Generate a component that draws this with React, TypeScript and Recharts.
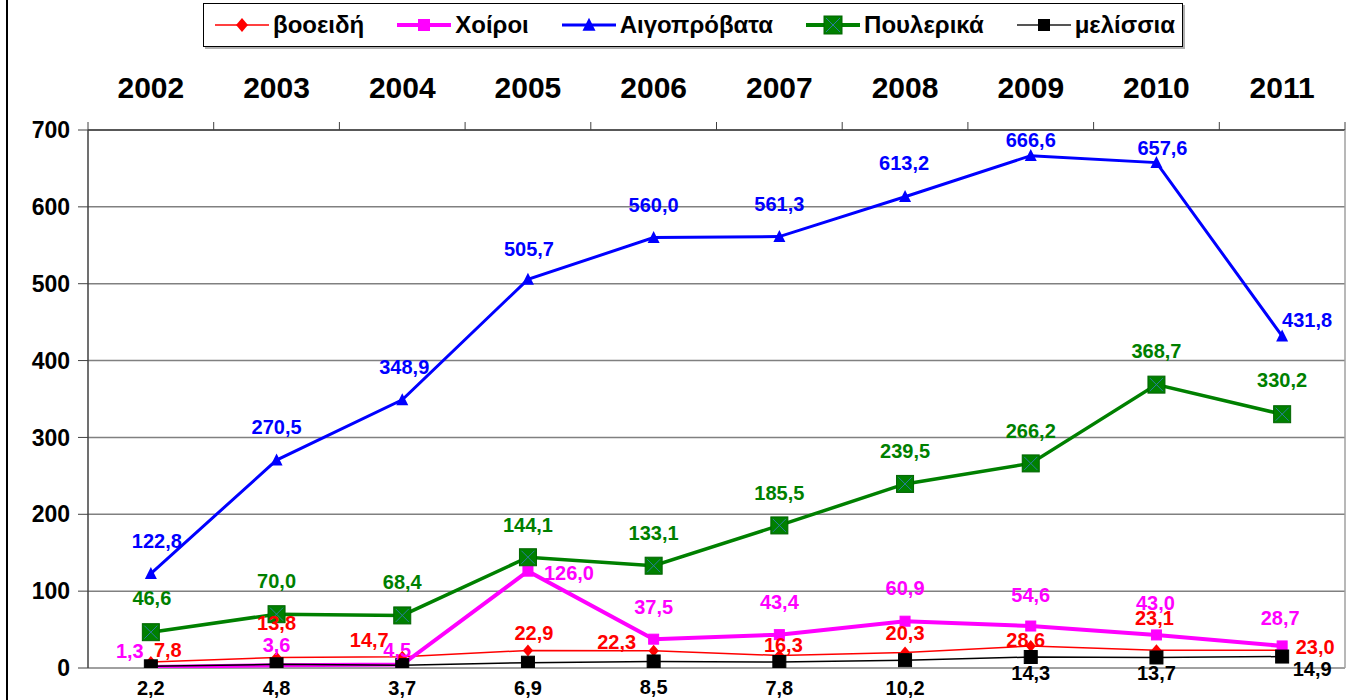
import React from 'react';
import { LineChart, Line, XAxis, YAxis, CartesianGrid, Legend, LabelList } from 'recharts';

const years = ['2002', '2003', '2004', '2005', '2006', '2007', '2008', '2009', '2010', '2011'];
const vooeidi = [7.8, 13.8, 14.7, 22.9, 22.3, 16.3, 20.3, 28.6, 23.1, 23.0];
const choiroi = [1.3, 3.6, 4.5, 126.0, 37.5, 43.4, 60.9, 54.6, 43.0, 28.7];
const aigoprovata = [122.8, 270.5, 348.9, 505.7, 560.0, 561.3, 613.2, 666.6, 657.6, 431.8];
const poulerika = [46.6, 70.0, 68.4, 144.1, 133.1, 185.5, 239.5, 266.2, 368.7, 330.2];
const melissia = [2.2, 4.8, 3.7, 6.9, 8.5, 7.8, 10.2, 14.3, 13.7, 14.9];
const yTicks = [0, 100, 200, 300, 400, 500, 600, 700];

const data = years.map((y, i) => ({
  year: y,
  vooeidi: vooeidi[i],
  choiroi: choiroi[i],
  aigoprovata: aigoprovata[i],
  poulerika: poulerika[i],
  melissia: melissia[i],
}));

const FONT = '"Liberation Sans", Arial, Helvetica, sans-serif';
const W = 1352;
const H = 700;
const PLOT_LEFT = 88;
const PLOT_RIGHT = 1345;
const PLOT_TOP = 130;
const HALF_BAND = (PLOT_RIGHT - PLOT_LEFT) / years.length / 2;

const RED = '#FF0000';
const MAGENTA = '#FF00FF';
const BLUE = '#0000FF';
const GREEN = '#008000';
const BLACK = '#000000';

// label offsets (relative to point) – layout only
const offBlue = [[6, -33], [0, -33], [2, -33], [1, -30], [0, -33], [0, -33], [-1, -34], [0, -16], [6, -15], [25, -16]];
const offGreen = [[1, -34], [0, -33], [0, -33], [0, -32], [0, -33], [0, -32], [0, -33], [0, -32], [0, -34], [0, -34]];
const offMagenta = [[-21, -16], [0, -20], [-5, -15], [41, 2], [0, -32], [0, -33], [0, -33], [0, -31], [-1, -32], [-2, -28]];
const offRed = [[17, -12], [0, -34], [-33, -17], [6, -17], [-37, -9], [4, -10], [0, -19], [-5, -6], [-2, -32], [33, -3]];
const offBlack = [[0, 22], [0, 24], [0, 23], [0, 25], [0, 26], [0, 26], [0, 28], [0, 16], [0, 16], [30, 12]];

const fmt = (v: number) => v.toFixed(1).replace('.', ',');

const makeLabel = (color: string, offs: number[][], size = 20) => (p: any) => {
  const { x, y, value, index } = p;
  if (x == null || y == null) return null;
  const o = offs[index] || [0, -30];
  return (
    <text
      key={`l-${color}-${index}`}
      x={x + o[0]}
      y={y + o[1]}
      textAnchor="middle"
      dominantBaseline="central"
      fill={color}
      fontFamily={FONT}
      fontWeight="bold"
      fontSize={size}
    >
      {fmt(Number(value))}
    </text>
  );
};

const diamond = (cx: number, cy: number, s: number, fill: string, key?: string) => (
  <path key={key} d={`M${cx},${cy - s}L${cx + s * 0.85},${cy}L${cx},${cy + s}L${cx - s * 0.85},${cy}Z`} fill={fill} />
);
const square = (cx: number, cy: number, s: number, fill: string, stroke: string, key?: string) => (
  <rect key={key} x={cx - s / 2} y={cy - s / 2} width={s} height={s} fill={fill} stroke={stroke} strokeWidth={1} />
);
const triangle = (cx: number, cy: number, s: number, fill: string, key?: string) => (
  <path key={key} d={`M${cx},${cy - s * 0.55}L${cx + s / 2},${cy + s * 0.45}L${cx - s / 2},${cy + s * 0.45}Z`} fill={fill} />
);
const greenSquare = (cx: number, cy: number, s: number, key?: string) => (
  <g key={key}>
    <rect x={cx - s / 2} y={cy - s / 2} width={s} height={s} fill={GREEN} stroke="#006400" strokeWidth={1} />
    <line x1={cx - s / 2 + 2} y1={cy - s / 2 + 2} x2={cx + s / 2 - 2} y2={cy + s / 2 - 2} stroke="#2a7f9f" strokeWidth={1} />
    <line x1={cx + s / 2 - 2} y1={cy - s / 2 + 2} x2={cx - s / 2 + 2} y2={cy + s / 2 - 2} stroke="#2a7f9f" strokeWidth={1} />
  </g>
);

const redDot = (p: any) => (p.cx == null ? null : diamond(p.cx, p.cy, 6, RED, `rd-${p.index}`));
const magDot = (p: any) => (p.cx == null ? null : square(p.cx, p.cy, 10, MAGENTA, MAGENTA, `md-${p.index}`));
const blueDot = (p: any) => (p.cx == null ? null : triangle(p.cx, p.cy, 12, BLUE, `bd-${p.index}`));
const greenDot = (p: any) => (p.cx == null ? null : greenSquare(p.cx, p.cy, 17, `gd-${p.index}`));
const blackDot = (p: any) => (p.cx == null ? null : square(p.cx, p.cy, 13, BLACK, BLACK, `kd-${p.index}`));

const XTick = (p: any) => {
  const { x, payload, index } = p;
  return (
    <g>
      <text x={x} y={PLOT_TOP - 32} textAnchor="middle" fill="#000" fontFamily={FONT} fontWeight="bold" fontSize={30}>
        {payload.value}
      </text>
      <line x1={x - HALF_BAND} x2={x - HALF_BAND} y1={PLOT_TOP - 8} y2={PLOT_TOP} stroke="#404040" strokeWidth={1} />
      {index === years.length - 1 ? (
        <line x1={x + HALF_BAND} x2={x + HALF_BAND} y1={PLOT_TOP - 8} y2={PLOT_TOP} stroke="#404040" strokeWidth={1} />
      ) : null}
    </g>
  );
};

const legendItems = [
  { name: 'βοοειδή', color: RED, width: 1.5, marker: (cx: number, cy: number) => diamond(cx, cy, 7, RED) },
  { name: 'Χοίροι', color: MAGENTA, width: 4, marker: (cx: number, cy: number) => square(cx, cy, 11, MAGENTA, MAGENTA) },
  { name: 'Αιγοπρόβατα', color: BLUE, width: 3, marker: (cx: number, cy: number) => triangle(cx, cy, 13, BLUE) },
  { name: 'Πουλερικά', color: GREEN, width: 4, marker: (cx: number, cy: number) => greenSquare(cx, cy, 18) },
  { name: 'μελίσσια', color: '#555', width: 2, marker: (cx: number, cy: number) => square(cx, cy, 11, BLACK, BLACK) },
];

const renderLegend = () => (
  <div
    style={{
      boxSizing: 'border-box',
      width: 980,
      height: 44,
      border: '1.5px solid #000',
      boxShadow: '2px 2px 0 #b0b0b0',
      background: '#fff',
      display: 'flex',
      alignItems: 'center',
      justifyContent: 'space-between',
      paddingLeft: 11,
      paddingRight: 7,
      fontFamily: FONT,
      fontWeight: 'bold',
      fontSize: 24,
      color: '#000',
    }}
  >
    {legendItems.map((it) => (
      <div key={it.name} style={{ display: 'flex', alignItems: 'center' }}>
        <svg width={54} height={24} style={{ marginRight: 4 }}>
          <line x1={0} x2={54} y1={12} y2={12} stroke={it.color} strokeWidth={it.width} />
          {it.marker(27, 12)}
        </svg>
        <span>{it.name}</span>
      </div>
    ))}
  </div>
);

export default function App() {
  return (
    <div style={{ position: 'absolute', left: 0, top: 0, width: W, height: H, background: '#fff', overflow: 'hidden' }}>
      <div style={{ position: 'absolute', left: 6, top: 0, width: 1.5, height: H, background: '#000' }} />
      <LineChart width={W} height={H} data={data} margin={{ top: 80, right: W - PLOT_RIGHT - 4, bottom: 32, left: 8 }}>
        <CartesianGrid horizontal vertical={false} stroke="#808080" strokeWidth={1.5} />
        <XAxis
          dataKey="year"
          orientation="top"
          height={50}
          tick={<XTick />}
          tickLine={false}
          axisLine={{ stroke: '#404040', strokeWidth: 1.5 }}
          interval={0}
          padding={{ left: HALF_BAND, right: HALF_BAND }}
        />
        <YAxis
          domain={[0, 700]}
          ticks={yTicks}
          width={80}
          tickSize={10}
          tickMargin={8}
          tick={{ fill: '#000', fontFamily: FONT, fontWeight: 'bold', fontSize: 23 }}
          axisLine={{ stroke: '#404040', strokeWidth: 1.5 }}
          tickLine={{ stroke: '#404040' }}
          allowDataOverflow
        />
        <YAxis
          yAxisId="r"
          orientation="right"
          domain={[0, 700]}
          width={4}
          tick={false}
          tickLine={false}
          axisLine={{ stroke: '#a0a0a0', strokeWidth: 1.5 }}
        />
        <Legend
          verticalAlign="top"
          content={renderLegend}
          wrapperStyle={{ position: 'absolute', top: 3, left: 203, width: 980, height: 0, overflow: 'visible' }}
        />
        <Line dataKey="vooeidi" name="βοοειδή" stroke={RED} strokeWidth={1.5} dot={redDot} activeDot={false} isAnimationActive={false}>
          <LabelList dataKey="vooeidi" content={makeLabel(RED, offRed)} />
        </Line>
        <Line dataKey="choiroi" name="Χοίροι" stroke={MAGENTA} strokeWidth={4} dot={magDot} activeDot={false} isAnimationActive={false}>
          <LabelList dataKey="choiroi" content={makeLabel(MAGENTA, offMagenta)} />
        </Line>
        <Line dataKey="aigoprovata" name="Αιγοπρόβατα" stroke={BLUE} strokeWidth={3} dot={blueDot} activeDot={false} isAnimationActive={false}>
          <LabelList dataKey="aigoprovata" content={makeLabel(BLUE, offBlue)} />
        </Line>
        <Line dataKey="poulerika" name="Πουλερικά" stroke={GREEN} strokeWidth={3.5} dot={greenDot} activeDot={false} isAnimationActive={false}>
          <LabelList dataKey="poulerika" content={makeLabel(GREEN, offGreen)} />
        </Line>
        <Line dataKey="melissia" name="μελίσσια" stroke={BLACK} strokeWidth={1.5} dot={blackDot} activeDot={false} isAnimationActive={false}>
          <LabelList dataKey="melissia" content={makeLabel(BLACK, offBlack)} />
        </Line>
      </LineChart>
    </div>
  );
}
